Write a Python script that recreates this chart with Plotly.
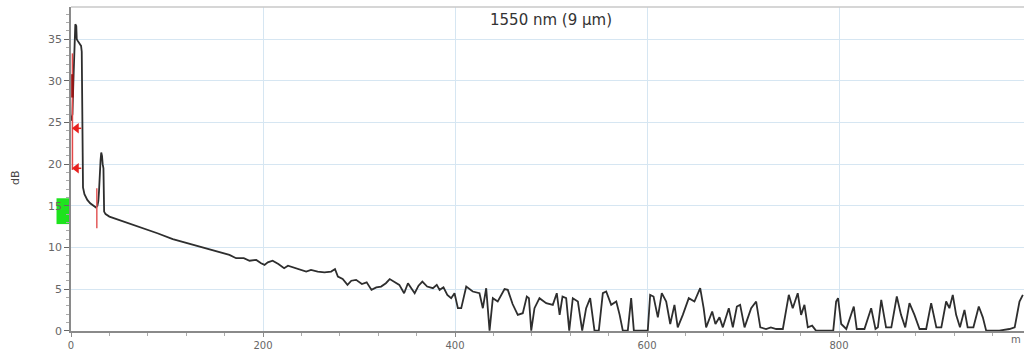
import plotly.graph_objects as go

# ---- trace data (distance in m, level in dB) ----
launch_dist = [0, 1.5, 2.5, 3.5, 4.5, 5.5, 6.0, 7.0, 10.5, 11.2, 11.8, 12.5, 14, 17, 20, 23, 26, 27.5, 28.5,
               29.2, 29.8, 30.8, 31.5, 32.3, 33.0, 33.8, 34.5, 36]
launch_db = [25.2, 26.0, 30.0, 34.0, 36.8, 36.6, 35.0, 34.8, 34.2, 33.5, 17.6, 17.2, 16.4, 15.7, 15.3, 15.0, 14.8, 15.0, 15.6,
             16.8, 19.5, 20.5, 21.4, 21.0, 20.0, 19.5, 14.3, 14.0]

decay_dist = [40, 50, 60, 71, 80, 90, 106, 115, 125, 134, 145, 155, 165, 172, 180, 186, 193, 198, 201.6, 205, 210,
              216, 222, 226, 231, 238, 245, 250, 257, 264, 271, 275, 278, 283, 288, 292, 297, 303, 308, 313, 318,
              323, 328, 332, 337, 342, 347, 351, 355, 358, 362, 366, 371, 377, 381]
decay_db = [13.7, 13.3, 12.9, 12.5, 12.1, 11.7, 11.0, 10.7, 10.4, 10.1, 9.7, 9.4, 9.1, 8.7, 8.7, 8.4, 8.5, 8.1, 7.9, 8.2, 8.4,
            8.0, 7.5, 7.8, 7.6, 7.4, 7.1, 7.3, 7.1, 7.0, 7.1, 7.4, 6.5, 6.2, 5.5, 6.0, 6.1, 5.6, 5.8, 4.9, 5.2,
            5.3, 5.7, 6.2, 5.9, 5.5, 4.5, 5.7, 5.0, 4.5, 5.4, 5.9, 5.3, 5.1, 5.5]

noise_dist = [384, 388, 392, 396, 399.5, 403, 406.5, 411.7, 418.5, 425.5, 429, 432.5, 436, 439.4, 444.5, 451.6, 455,
              460, 465.4, 470.6, 474.8, 477, 479.4, 482.8, 488, 495, 501.9, 506, 509, 512, 515.8, 519, 522.7, 528,
              532.5, 536.6, 540.8, 545.3, 549.8, 554, 557.5, 562.7, 568, 571.5, 574.8, 580, 583.5, 586.3, 600.8,
              603.3, 606.8, 611.3, 615.4, 620, 624.2, 628.6, 632, 637.3, 643.5, 649.4, 655.4, 659, 661.6, 667.9,
              671.3, 675.5, 679, 685.2, 689.4, 693.6, 697, 701.6, 708.5, 713.7, 718, 724, 729, 734.6, 741.5, 747.7,
              751.8, 757, 760.5, 764, 767.5, 772, 776, 794, 797, 799, 802.3, 807.6, 811.8, 815.4, 818.5, 826.5,
              833.5, 838, 840.5, 844, 849, 854.5, 860.2, 864.6, 869, 873.4, 878.6, 883.9, 890.8, 896, 901.4, 906.6,
              911.6, 915, 918.5, 922, 926, 930.7, 934, 940, 945.6, 949.8, 953.3, 967, 977.6, 983, 988, 991.5]
noise_db = [4.9, 5.2, 4.3, 3.9, 4.5, 2.7, 2.7, 5.3, 4.7, 4.5, 2.7, 5.1, 0.0, 3.9, 3.5, 5.0, 4.9,
            3.2, 1.9, 2.1, 4.1, 3.9, 0.0, 2.7, 3.9, 3.3, 3.1, 4.5, 1.9, 4.1, 3.9, 0.0, 3.9, 3.5,
            0.0, 2.7, 3.9, 0.0, 0.0, 4.5, 4.7, 3.1, 3.5, 1.9, 0.0, 0.0, 3.9, 0.0, 0.0,
            4.3, 4.1, 1.6, 4.5, 3.5, 0.8, 3.1, 0.4, 1.9, 3.9, 3.5, 5.1, 2.7, 0.4, 2.3,
            0.8, 1.6, 0.4, 2.7, 0.4, 2.9, 3.1, 0.4, 2.7, 3.5, 0.4, 0.2, 0.4, 0.2, 0.2, 4.3,
            2.7, 4.5, 1.9, 3.1, 0.4, 0.6, 0.0, 0.0, 3.5, 3.9, 0.8, 0.2, 1.6, 2.9, 0.2, 0.2,
            2.7, 0.2, 0.4, 3.7, 0.4, 0.4, 4.1, 1.9, 0.4, 3.3, 1.9, 0.2, 0.2, 3.3, 0.4, 0.4,
            3.5, 2.7, 4.3, 1.9, 0.4, 2.5, 0.4, 0.4, 2.9, 1.6, 0.0, 0.0, 0.2, 0.4, 3.5, 4.3]

# ---- event markers ----
cursor_a_dist = [1.5, 1.5]
cursor_a_db = [33.3, 19.3]
cursor_a_dark_db = [30.8, 28.0]
cursor_b_dist = [26.9, 26.9]
cursor_b_db = [17.1, 12.3]
arrow_dist = [5.7, 5.7]
arrow_db = [24.3, 19.5]

x_ticks = [0, 200, 400, 600, 800]
y_ticks = [0, 5, 10, 15, 20, 25, 30, 35]

dist = launch_dist + decay_dist + noise_dist
level = launch_db + decay_db + noise_db

fig = go.Figure()
fig.add_trace(go.Scatter(x=dist, y=level, mode="lines",
                         line=dict(color="#2e2e2e", width=1.8), hoverinfo="skip", showlegend=False))
fig.add_trace(go.Scatter(x=cursor_a_dist, y=cursor_a_db, mode="lines",
                         line=dict(color="#e34848", width=1.5), showlegend=False))
fig.add_trace(go.Scatter(x=cursor_a_dist, y=cursor_a_dark_db, mode="lines",
                         line=dict(color="#9c1414", width=2.5), showlegend=False))
fig.add_trace(go.Scatter(x=cursor_b_dist, y=cursor_b_db, mode="lines",
                         line=dict(color="#e35a5a", width=1.5), showlegend=False))
for d, v in zip(arrow_dist, arrow_db):
    fig.add_trace(go.Scatter(x=[d, d + 5], y=[v, v], mode="lines",
                             line=dict(color="#e8201e", width=1.5), showlegend=False))
fig.add_trace(go.Scatter(x=arrow_dist, y=arrow_db, mode="markers",
                         marker=dict(symbol="triangle-left", size=9, color="#e8201e"), showlegend=False))

# green level box left of axis
fig.add_shape(type="rect", xref="paper", yref="y", x0=-0.0152, x1=-0.0012, y0=12.8, y1=15.9,
              fillcolor="#1ee31e", line=dict(width=0), layer="below")
# top border
fig.add_shape(type="line", xref="paper", yref="paper", x0=0, x1=1, y0=1, y1=1,
              line=dict(color="#c8c8c8", width=1.5))

fig.update_layout(
    width=1026, height=355,
    margin=dict(l=71, r=2, t=7, b=24),
    paper_bgcolor="white", plot_bgcolor="white",
    font=dict(family="DejaVu Sans", color="#555"),
    hovermode=False,
    xaxis=dict(range=[0, 992.7], tickvals=x_ticks, ticktext=[str(v) for v in x_ticks],
               showgrid=True, gridcolor="#d6e6f2", gridwidth=1, zeroline=False,
               showline=True, linecolor="#8a8a8a", linewidth=1.5,
               ticks="outside", ticklen=4, tickcolor="#8a8a8a",
               tickfont=dict(size=10, color="#666"),
               minor=dict(dtick=40, tick0=0, ticks="outside", ticklen=3, tickcolor="#aaa", showgrid=False)),
    yaxis=dict(range=[-0.04, 38.87], tickvals=y_ticks, ticktext=[str(v) for v in y_ticks],
               showgrid=True, gridcolor="#d6e6f2", gridwidth=1, zeroline=False,
               showline=True, linecolor="#8a8a8a", linewidth=1.5,
               ticks="outside", ticklen=5, tickcolor="#666",
               tickfont=dict(size=11, color="#666"),
               minor=dict(dtick=1, tick0=0, ticks="outside", ticklen=3, tickcolor="#aaa", showgrid=False)),
    annotations=[
        dict(text="1550 nm (9 µm)", xref="paper", yref="paper", x=(551 - 71) / 953, y=1 - (20 - 7) / 324,
             xanchor="center", yanchor="middle", showarrow=False, font=dict(size=15, color="#333")),
        dict(text="dB", xref="paper", yref="paper", x=(15 - 71) / 953, y=1 - (178 - 7) / 324,
             xanchor="center", yanchor="middle", textangle=-90, showarrow=False, font=dict(size=11, color="#444")),
        dict(text="m", xref="paper", yref="paper", x=(1016 - 71) / 953, y=-(340 - 331) / 324,
             xanchor="center", yanchor="middle", showarrow=False, font=dict(size=10, color="#666")),
    ],
)

fig.write_html("out.html", config={"displayModeBar": False},
               post_script="document.body.style.margin='0';document.body.style.overflow='hidden';")
